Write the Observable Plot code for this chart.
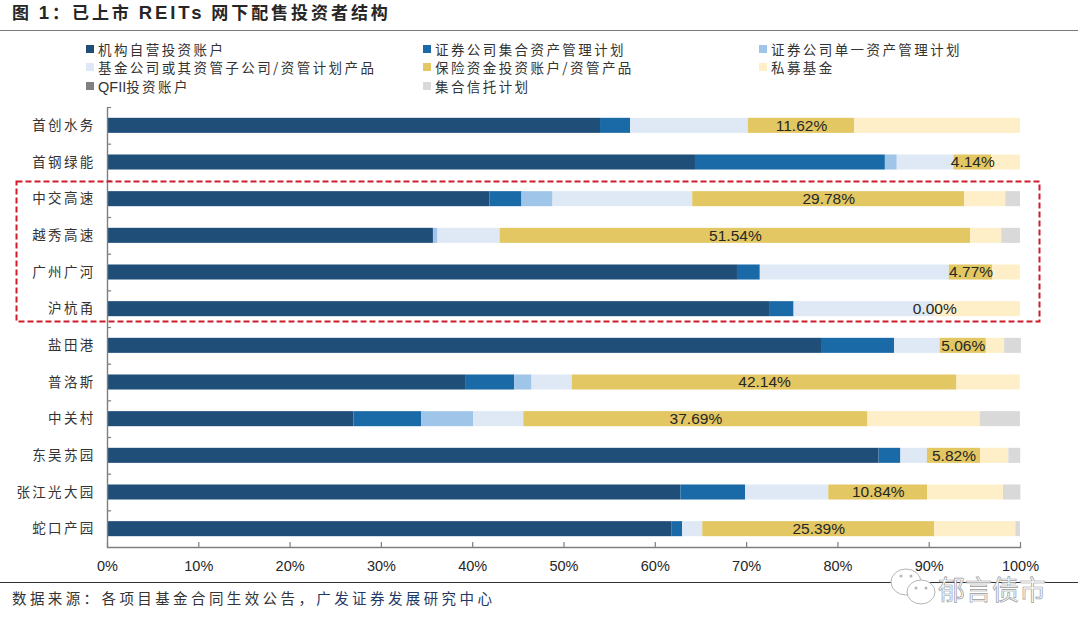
<!DOCTYPE html>
<html><head><meta charset="utf-8">
<script src="https://cdn.jsdelivr.net/npm/d3@7"></script>
<script src="https://cdn.jsdelivr.net/npm/@observablehq/plot@0.6"></script>
<style>
html,body{margin:0;padding:0;background:#fff;width:1080px;height:636px;overflow:hidden}
#page{position:relative;width:1080px;height:636px;font-family:"Noto Sans CJK SC","Noto Sans",sans-serif;color:#262626}
#page>*{position:absolute}
#chart{left:0;top:0}
#chart svg{display:block;background:transparent}
.t{white-space:nowrap;line-height:1}
.lg{display:flex;align-items:center;font-size:13.5px;letter-spacing:2.42px;white-space:nowrap;height:18px;color:#333}
.lg i{display:inline-block;width:8px;height:8px;margin-right:4px}
.lat{font-family:"Liberation Sans",Arial,sans-serif;letter-spacing:0;font-size:14.5px}
g[aria-label="y-axis tick label"] text{letter-spacing:2.3px}
</style></head><body>
<div id="page"></div>
<script>
const categories=["首创水务","首钢绿能","中交高速","越秀高速","广州广河","沪杭甬","盐田港","普洛斯","中关村","东吴苏园","张江光大园","蛇口产园"];
const seriesNames=["机构自营投资账户","证券公司集合资产管理计划","证券公司单一资产管理计划","基金公司或其资管子公司/资管计划产品","保险资金投资账户/资管产品","私募基金","QFII投资账户","集合信托计划"];
const seriesColors=["#1F4E79","#196AA6","#9FC5E8","#DEE9F5","#E3C763","#FEEFC8","#808080","#D9D9D9"];
const proprietary=[54.0,64.4,41.9,35.7,69.0,72.6,78.3,39.3,27.0,84.5,62.8,61.8];
const brokerCollective=[3.3,20.8,3.5,0,2.5,2.6,7.9,5.3,7.4,2.4,7.1,1.2];
const brokerSingle=[0,1.3,3.4,0.5,0,0,0,1.9,5.7,0,0,0];
const fundProducts=[12.9,6.2,15.3,6.8,20.7,15.4,5.0,4.4,5.5,2.9,9.1,2.2];
const insurance=[11.62,4.14,29.78,51.54,4.77,0,5.06,42.14,37.69,5.82,10.84,25.39];
const privateFunds=[18.18,3.16,4.5,3.4,3.03,9.4,2.0,6.94,12.3,3.1,8.3,8.9];
const qfii=[0,0,0,0,0,0,0,0,0,0,0,0];
const trust=[0,0,1.62,2.06,0,0,1.84,0,4.4,1.3,1.9,0.5];
const xTicks=[0,10,20,30,40,50,60,70,80,90,100];
const titleText="图 1：已上市 REITs 网下配售投资者结构";

const allSeries=[proprietary,brokerCollective,brokerSingle,fundProducts,insurance,privateFunds,qfii,trust];
const rows=seriesNames.flatMap((s,i)=>categories.map((c,j)=>({name:c,series:s,value:allSeries[i][j]})));
const gold=seriesNames[4];
const CJK='"Noto Sans CJK SC","Noto Sans",sans-serif';

const chart=Plot.plot({
  width:1080,height:636,
  marginLeft:107,marginRight:60,marginTop:107,marginBottom:89,
  style:{background:"transparent"},
  x:{domain:[0,100],label:null},
  y:{type:"band",domain:categories,paddingInner:0.59,paddingOuter:0.295,align:0.5,round:false,label:null},
  color:{domain:seriesNames,range:seriesColors},
  marks:[
    Plot.barX(rows,{x:"value",y:"name",fill:"series",order:seriesNames}),
    Plot.ruleX([0],{stroke:"#7f7f7f",strokeWidth:1.4}),
    Plot.ruleY(categories,{y:d=>d,x1:0,x2:0.45,dy:-18.33,stroke:"#7f7f7f",strokeWidth:1.2}),
    Plot.ruleX(xTicks,{x:d=>d,insetTop:435,stroke:"#7f7f7f",strokeWidth:1.2}),
    Plot.frame({anchor:"bottom",stroke:"#7f7f7f",strokeWidth:1.4}),
    Plot.axisX({ticks:xTicks,tickSize:0,tickPadding:13,tickFormat:d=>d+"%",fontSize:14.5,fill:"#262626",fontFamily:'"Liberation Sans",Arial,sans-serif',label:null}),
    Plot.axisY({tickSize:0,tickPadding:12,fontSize:13.5,fill:"#333",fontFamily:CJK,label:null}),
    Plot.text(rows,Plot.stackX({x:"value",y:"name",z:"series",order:seriesNames,
      text:d=>d.series===gold?d.value.toFixed(2)+"%":"",
      fontSize:15.5,fill:"#262626",fontFamily:'"Liberation Sans",Arial,sans-serif'}))
  ]
});
const page=document.getElementById("page");
const holder=document.createElement("div");holder.id="chart";holder.appendChild(chart);page.appendChild(holder);

function el(cssText,html,cls){const d=document.createElement("div");d.style.cssText=cssText;if(cls)d.className=cls;d.innerHTML=html;page.appendChild(d);return d;}
// title and rules
el("left:12px;top:3px;font-size:17px;font-weight:700;letter-spacing:2.95px;color:#262626",
   titleText.replace("1",'<span style="font-family:\'Liberation Sans\';font-size:18.5px">1</span>').replace("REITs",'<span style="font-family:\'Liberation Sans\';font-size:18.5px">REITs</span>'),"t");
el("left:0;top:29.5px;width:1078px;height:1.6px;background:#7a7a7a","");
el("left:0;top:582px;width:1078px;height:1px;background:#333","");
// legend
const cols=[86,423,759],rowsY=[40,58,76.5];
seriesNames.forEach((s,i)=>{
  const html=`<i style="background:${seriesColors[i]}"></i><span>${s.replace("QFII",'<span class="lat">QFII</span>')}</span>`;
  el(`left:${cols[i%3]}px;top:${rowsY[Math.floor(i/3)]}px`,html,"lg");
});
// source
el("left:12px;top:591px;font-size:14.5px;letter-spacing:3.4px;color:#333",
   '数据来源：各项目基金合同生效公告，<span style="color:#1F3864">广发证券发展研究中心</span>',"t");
// dashed box + watermark
const ov=document.createElementNS("http://www.w3.org/2000/svg","svg");
ov.setAttribute("width",1080);ov.setAttribute("height",636);ov.style.cssText="left:0;top:0;pointer-events:none";
ov.innerHTML=`<rect x="16.5" y="181.5" width="1023" height="140" fill="none" stroke="#D01C2A" stroke-width="2" stroke-dasharray="6 3"/>
<g fill="#fff" stroke="#b5b5b5" stroke-width="1">
<ellipse cx="906" cy="582" rx="15" ry="13"/>
<ellipse cx="921" cy="592" rx="14" ry="12"/>
</g>
<g fill="#b5b5b5"><circle cx="901" cy="576" r="1.5"/><circle cx="911" cy="576" r="1.5"/><circle cx="916" cy="588" r="1.5"/><circle cx="926" cy="588" r="1.5"/></g>`;
page.appendChild(ov);
el("left:938px;top:575px;font-size:27px;letter-spacing:0;color:#fff;-webkit-text-stroke:0.7px #9a9a9a","郁言债市","t");
</script>
</body></html>
